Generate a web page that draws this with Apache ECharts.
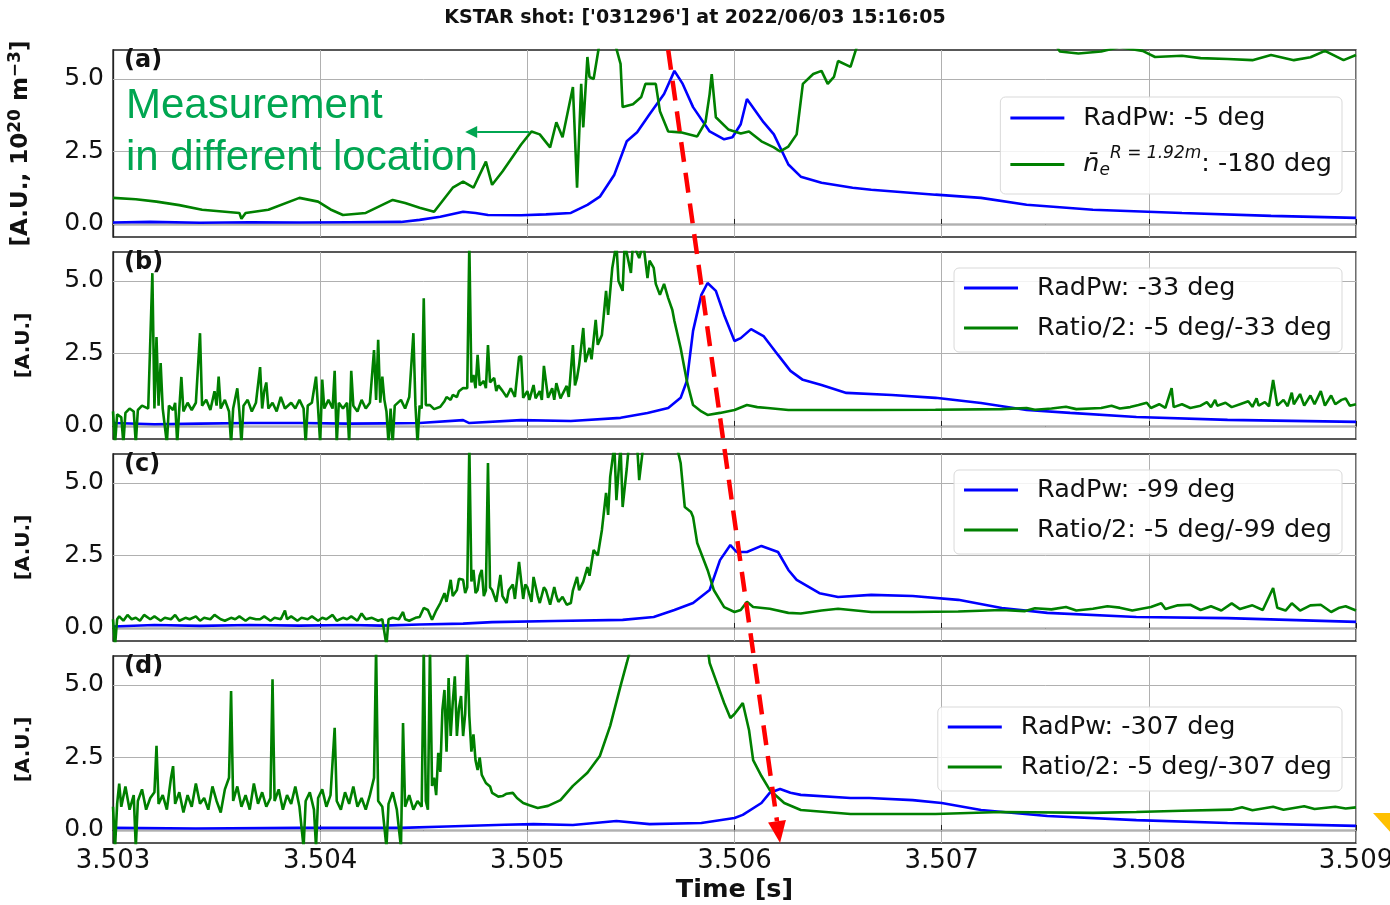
<!DOCTYPE html>
<html><head><meta charset="utf-8">
<script src="https://cdn.jsdelivr.net/npm/echarts@6/dist/echarts.min.js"></script>
<style>html,body{margin:0;padding:0;background:#fff}#c{width:1390px;height:905px}</style>
</head><body><div id="c"></div><script>
// ---------------- data (time [s], value [A.U.]) ----------------
const titleText = "KSTAR shot: ['031296'] at 2022/06/03 15:16:05";
const panelLabels = ['(a)', '(b)', '(c)', '(d)'];
const xTicks = [3.503, 3.504, 3.505, 3.506, 3.507, 3.508, 3.509];
const yTicks = [0, 2.5, 5.0];
const seriesNames = ['RadPw: -5 deg', 'ne R=1.92m: -180 deg', 'RadPw: -33 deg', 'Ratio/2: -5 deg/-33 deg',
  'RadPw: -99 deg', 'Ratio/2: -5 deg/-99 deg', 'RadPw: -307 deg', 'Ratio/2: -5 deg/-307 deg'];

const radA = [[3.50300,0.05],[3.50318,0.07],[3.50342,0.04],[3.50366,0.06],[3.50390,0.05],[3.50414,0.06],[3.50439,0.07],[3.50448,0.14],[3.50458,0.25],[3.50469,0.42],[3.50475,0.38],[3.50481,0.31],[3.50497,0.30],[3.50509,0.33],[3.50521,0.38],[3.50529,0.66],[3.50535,0.94],[3.50542,1.70],[3.50548,2.85],[3.50553,3.16],[3.50559,3.78],[3.50566,4.48],[3.50571,5.28],[3.50575,4.83],[3.50580,4.03],[3.50588,3.19],[3.50595,2.92],[3.50599,2.99],[3.50603,3.44],[3.50606,4.31],[3.50614,3.51],[3.50619,3.09],[3.50626,2.05],[3.50632,1.63],[3.50642,1.42],[3.50657,1.25],[3.50666,1.18],[3.50697,1.01],[3.50719,0.90],[3.50741,0.66],[3.50773,0.49],[3.50816,0.38],[3.50859,0.28],[3.50900,0.21]];
const densA = [[3.50300,0.90],[3.50311,0.85],[3.50321,0.77],[3.50332,0.65],[3.50343,0.49],[3.50361,0.38],[3.50362,0.18],[3.50364,0.38],[3.50375,0.49],[3.50390,0.90],[3.50399,0.77],[3.50405,0.50],[3.50411,0.31],[3.50422,0.38],[3.50435,0.83],[3.50441,0.72],[3.50448,0.56],[3.50455,0.42],[3.50464,1.25],[3.50469,1.46],[3.50474,1.25],[3.50480,2.15],[3.50483,1.35],[3.50488,1.81],[3.50497,2.74],[3.50502,3.19],[3.50506,3.09],[3.50511,2.64],[3.50514,3.51],[3.50517,2.99],[3.50522,4.72],[3.50524,1.25],[3.50526,4.83],[3.50527,3.33],[3.50529,5.76],[3.50530,5.07],[3.50532,5.00],[3.50535,6.30],[3.50542,6.30],[3.50545,5.52],[3.50546,4.03],[3.50551,4.13],[3.50555,4.38],[3.50557,4.83],[3.50562,4.83],[3.50564,3.89],[3.50568,3.19],[3.50574,3.16],[3.50582,3.02],[3.50586,3.51],[3.50588,4.48],[3.50589,5.17],[3.50591,3.68],[3.50597,3.26],[3.50603,3.12],[3.50607,3.19],[3.50613,2.85],[3.50619,2.64],[3.50622,2.50],[3.50626,2.67],[3.50630,3.09],[3.50633,4.83],[3.50638,5.17],[3.50642,5.28],[3.50645,4.83],[3.50648,5.07],[3.50650,5.62],[3.50656,5.42],[3.50659,6.10],[3.50666,6.60],[3.50704,7.00],[3.50750,6.80],[3.50757,5.95],[3.50766,5.88],[3.50777,5.95],[3.50786,6.10],[3.50797,5.97],[3.50803,5.76],[3.50816,5.80],[3.50825,5.72],[3.50838,5.69],[3.50850,5.65],[3.50859,5.83],[3.50870,5.65],[3.50878,5.75],[3.50885,5.97],[3.50894,5.65],[3.50900,5.83]];

const radB = [[3.50300,0.10],[3.50320,0.06],[3.50342,0.08],[3.50366,0.10],[3.50390,0.10],[3.50414,0.08],[3.50430,0.09],[3.50448,0.10],[3.50469,0.20],[3.50472,0.10],[3.50497,0.20],[3.50521,0.17],[3.50545,0.28],[3.50558,0.45],[3.50568,0.62],[3.50574,0.97],[3.50577,1.55],[3.50580,3.28],[3.50584,4.52],[3.50587,4.93],[3.50591,4.66],[3.50595,3.83],[3.50600,2.93],[3.50603,3.03],[3.50608,3.34],[3.50614,3.10],[3.50621,2.45],[3.50627,1.90],[3.50633,1.59],[3.50642,1.41],[3.50654,1.14],[3.50676,1.07],[3.50697,0.97],[3.50719,0.79],[3.50741,0.55],[3.50762,0.45],[3.50794,0.31],[3.50838,0.21],[3.50900,0.14]];
const ratioB = [[3.50300,0.5],[3.50301,-0.6],[3.50302,0.4],[3.50304,0.3],[3.50305,-0.6],[3.50306,0.45],[3.50308,0.6],[3.50310,0.5],[3.50311,-0.6],[3.50312,0.55],[3.50314,0.7],[3.50317,0.6],[3.50319,5.27],[3.50320,0.6],[3.50321,3.07],[3.50322,0.7],[3.50323,2.17],[3.50324,0.6],[3.50326,-0.6],[3.50327,0.7],[3.50329,0.55],[3.50330,0.8],[3.50331,-0.6],[3.50332,0.6],[3.50333,1.69],[3.50334,0.5],[3.50336,0.8],[3.50338,0.55],[3.50340,0.8],[3.50342,3.2],[3.50343,0.7],[3.50345,0.9],[3.50347,0.55],[3.50349,1.2],[3.50350,0.7],[3.50351,1.7],[3.50352,0.6],[3.50354,0.9],[3.50356,0.5],[3.50357,-0.6],[3.50358,0.6],[3.50360,1.3],[3.50361,0.5],[3.50362,-0.6],[3.50363,0.7],[3.50365,0.9],[3.50367,0.5],[3.50369,0.8],[3.50371,2.03],[3.50372,0.6],[3.50373,1.2],[3.50374,1.5],[3.50375,0.6],[3.50377,0.8],[3.50379,0.5],[3.50381,1.0],[3.50383,0.6],[3.50386,0.8],[3.50388,0.6],[3.50390,0.9],[3.50392,0.6],[3.50393,-0.6],[3.50394,0.7],[3.50396,0.8],[3.50398,1.7],[3.50399,0.6],[3.50400,-0.6],[3.50401,1.6],[3.50402,0.6],[3.50404,0.9],[3.50406,0.6],[3.50407,1.9],[3.50408,-0.6],[3.50409,0.8],[3.50411,0.6],[3.50413,0.8],[3.50414,-0.6],[3.50415,1.9],[3.50416,0.7],[3.50418,0.5],[3.50420,0.9],[3.50422,0.6],[3.50424,0.8],[3.50426,2.62],[3.50427,0.9],[3.50428,2.97],[3.50429,0.8],[3.50430,1.7],[3.50431,0.9],[3.50432,0.5],[3.50433,-0.6],[3.50434,0.6],[3.50435,-0.6],[3.50436,0.7],[3.50439,0.9],[3.50441,0.6],[3.50443,1.0],[3.50445,3.2],[3.50446,0.7],[3.50447,-0.6],[3.50448,0.7],[3.50449,0.6],[3.50450,4.4],[3.50451,0.72],[3.50453,0.72],[3.50455,0.58],[3.50458,0.66],[3.50460,0.85],[3.50461,1.0],[3.50463,0.9],[3.50464,1.07],[3.50466,1.0],[3.50467,1.2],[3.50469,1.31],[3.50471,1.3],[3.50472,6.3],[3.50473,1.5],[3.50474,1.76],[3.50475,1.3],[3.50476,2.45],[3.50477,1.4],[3.50479,1.55],[3.50480,1.3],[3.50481,2.79],[3.50482,1.5],[3.50484,1.66],[3.50485,1.2],[3.50486,1.4],[3.50488,1.21],[3.50490,1.0],[3.50492,1.3],[3.50494,1.0],[3.50496,2.38],[3.50497,2.41],[3.50498,0.97],[3.50500,1.2],[3.50501,0.9],[3.50503,1.41],[3.50504,0.95],[3.50506,1.2],[3.50507,0.9],[3.50508,2.07],[3.50510,0.97],[3.50512,1.3],[3.50513,0.9],[3.50514,1.48],[3.50516,0.95],[3.50517,1.1],[3.50519,1.38],[3.50520,1.0],[3.50522,2.79],[3.50523,1.4],[3.50524,1.66],[3.50525,2.1],[3.50527,3.38],[3.50528,2.2],[3.50530,2.69],[3.50531,2.3],[3.50533,3.66],[3.50534,2.8],[3.50536,3.14],[3.50538,4.66],[3.50539,3.83],[3.50541,5.45],[3.50543,6.3],[3.50544,5.0],[3.50546,4.66],[3.50547,6.3],[3.50550,5.28],[3.50551,6.3],[3.50554,5.79],[3.50556,6.3],[3.50558,5.1],[3.50559,5.7],[3.50561,5.45],[3.50562,4.9],[3.50564,4.52],[3.50566,4.9],[3.50568,4.41],[3.50570,4.0],[3.50571,3.62],[3.50574,2.69],[3.50577,1.55],[3.50580,0.72],[3.50584,0.5],[3.50587,0.38],[3.50593,0.45],[3.50600,0.55],[3.50606,0.72],[3.50611,0.65],[3.50616,0.62],[3.50626,0.55],[3.50646,0.55],[3.50666,0.55],[3.50697,0.56],[3.50729,0.58],[3.50741,0.62],[3.50745,0.56],[3.50753,0.6],[3.50760,0.66],[3.50765,0.58],[3.50777,0.62],[3.50782,0.7],[3.50786,0.6],[3.50791,0.65],[3.50795,0.72],[3.50799,0.8],[3.50801,0.62],[3.50805,0.75],[3.50808,0.62],[3.50811,1.3],[3.50812,0.65],[3.50816,0.75],[3.50820,0.62],[3.50825,0.7],[3.50828,0.82],[3.50830,0.65],[3.50832,0.9],[3.50833,0.7],[3.50837,0.8],[3.50840,0.65],[3.50844,0.75],[3.50848,0.85],[3.50850,0.66],[3.50852,0.95],[3.50853,0.7],[3.50856,0.82],[3.50858,0.68],[3.50860,1.59],[3.50862,0.7],[3.50865,0.9],[3.50867,0.68],[3.50869,1.15],[3.50870,0.75],[3.50873,1.1],[3.50875,0.7],[3.50878,1.05],[3.50880,0.75],[3.50883,1.2],[3.50885,0.7],[3.50888,1.05],[3.50890,0.75],[3.50893,0.9],[3.50895,0.95],[3.50897,0.7],[3.50900,0.75]];

const radC = [[3.50300,0.05],[3.50320,0.10],[3.50342,0.07],[3.50366,0.10],[3.50390,0.08],[3.50414,0.10],[3.50430,0.08],[3.50448,0.12],[3.50469,0.15],[3.50483,0.20],[3.50513,0.24],[3.50546,0.28],[3.50561,0.38],[3.50571,0.62],[3.50580,0.86],[3.50588,1.31],[3.50593,2.34],[3.50598,2.86],[3.50601,2.62],[3.50606,2.62],[3.50613,2.83],[3.50621,2.62],[3.50626,2.00],[3.50630,1.66],[3.50641,1.20],[3.50650,1.07],[3.50666,1.14],[3.50686,1.10],[3.50708,0.97],[3.50729,0.69],[3.50751,0.52],[3.50794,0.38],[3.50838,0.34],[3.50900,0.21]];
const ratioC = [[3.50300,0.3],[3.50301,-0.6],[3.50302,0.3],[3.50303,0.4],[3.50305,0.25],[3.50307,0.45],[3.50309,0.3],[3.50311,0.35],[3.50313,0.25],[3.50315,0.45],[3.50318,0.3],[3.50320,0.4],[3.50323,0.25],[3.50325,0.35],[3.50328,0.3],[3.50330,0.45],[3.50332,0.25],[3.50335,0.35],[3.50337,0.3],[3.50340,0.4],[3.50342,0.25],[3.50344,0.35],[3.50347,0.3],[3.50349,0.45],[3.50352,0.3],[3.50354,0.25],[3.50357,0.35],[3.50359,0.3],[3.50361,0.4],[3.50364,0.25],[3.50366,0.35],[3.50369,0.3],[3.50371,0.3],[3.50373,0.4],[3.50376,0.25],[3.50378,0.35],[3.50381,0.3],[3.50383,0.6],[3.50384,0.3],[3.50386,0.4],[3.50389,0.25],[3.50391,0.35],[3.50394,0.3],[3.50396,0.4],[3.50399,0.25],[3.50401,0.35],[3.50403,0.3],[3.50406,0.45],[3.50408,0.25],[3.50411,0.35],[3.50413,0.3],[3.50415,0.4],[3.50418,0.25],[3.50420,0.5],[3.50422,0.3],[3.50425,0.35],[3.50428,0.25],[3.50430,0.3],[3.50432,-0.6],[3.50433,0.3],[3.50435,0.35],[3.50438,0.3],[3.50440,0.55],[3.50441,0.3],[3.50443,0.25],[3.50446,0.35],[3.50448,0.38],[3.50450,0.69],[3.50452,0.62],[3.50454,0.28],[3.50456,0.6],[3.50458,0.86],[3.50460,1.2],[3.50461,0.9],[3.50463,1.66],[3.50464,1.1],[3.50466,1.31],[3.50467,1.7],[3.50469,1.66],[3.50470,1.2],[3.50471,1.4],[3.50472,6.3],[3.50473,1.6],[3.50474,2.0],[3.50475,1.2],[3.50476,1.31],[3.50477,1.8],[3.50478,2.0],[3.50479,1.1],[3.50480,1.3],[3.50481,5.69],[3.50482,1.4],[3.50483,1.31],[3.50485,0.9],[3.50487,1.83],[3.50488,1.1],[3.50490,0.86],[3.50491,1.3],[3.50493,1.5],[3.50494,1.0],[3.50496,2.28],[3.50498,1.0],[3.50499,1.5],[3.50500,1.4],[3.50502,0.9],[3.50503,1.76],[3.50505,1.1],[3.50506,0.86],[3.50508,1.4],[3.50509,1.3],[3.50511,0.8],[3.50513,1.41],[3.50514,1.1],[3.50515,0.9],[3.50517,1.07],[3.50519,0.8],[3.50521,0.86],[3.50522,1.3],[3.50524,1.76],[3.50525,1.3],[3.50527,1.6],[3.50529,2.1],[3.50530,1.8],[3.50532,2.69],[3.50534,2.5],[3.50536,3.38],[3.50538,4.66],[3.50539,3.9],[3.50540,5.21],[3.50542,6.3],[3.50543,4.41],[3.50545,6.3],[3.50546,4.17],[3.50548,5.5],[3.50549,6.3],[3.50553,6.3],[3.50554,5.1],[3.50556,6.3],[3.50572,6.3],[3.50574,5.69],[3.50576,4.17],[3.50579,4.0],[3.50580,3.83],[3.50582,2.93],[3.50587,2.0],[3.50590,1.31],[3.50595,0.72],[3.50600,0.55],[3.50603,0.62],[3.50606,0.9],[3.50609,0.72],[3.50617,0.66],[3.50626,0.52],[3.50632,0.5],[3.50642,0.6],[3.50650,0.66],[3.50666,0.55],[3.50686,0.55],[3.50708,0.57],[3.50729,0.62],[3.50740,0.58],[3.50745,0.68],[3.50753,0.64],[3.50760,0.72],[3.50765,0.6],[3.50773,0.66],[3.50780,0.75],[3.50786,0.7],[3.50792,0.6],[3.50801,0.72],[3.50806,0.85],[3.50808,0.65],[3.50814,0.78],[3.50820,0.8],[3.50825,0.62],[3.50830,0.75],[3.50835,0.6],[3.50840,0.85],[3.50844,0.65],[3.50850,0.78],[3.50855,0.62],[3.50860,1.38],[3.50862,0.7],[3.50866,0.6],[3.50869,0.85],[3.50873,0.6],[3.50878,0.78],[3.50883,0.8],[3.50888,0.55],[3.50892,0.7],[3.50895,0.75],[3.50900,0.6]];

const radD = [[3.50300,0.07],[3.50340,0.05],[3.50390,0.07],[3.50439,0.07],[3.50461,0.12],[3.50489,0.18],[3.50503,0.20],[3.50522,0.17],[3.50543,0.31],[3.50559,0.20],[3.50584,0.24],[3.50600,0.41],[3.50604,0.52],[3.50613,0.93],[3.50617,1.28],[3.50622,1.41],[3.50627,1.28],[3.50632,1.21],[3.50656,1.10],[3.50665,1.10],[3.50686,1.03],[3.50700,0.93],[3.50719,0.69],[3.50751,0.48],[3.50794,0.34],[3.50838,0.24],[3.50900,0.14]];
const ratioD = [[3.50300,0.8],[3.50301,-0.6],[3.50302,0.9],[3.50303,1.6],[3.50304,0.8],[3.50306,1.5],[3.50308,0.7],[3.50310,1.2],[3.50311,-0.6],[3.50312,1.0],[3.50314,1.4],[3.50316,0.7],[3.50318,1.1],[3.50320,1.3],[3.50321,2.9],[3.50322,0.9],[3.50324,1.2],[3.50326,0.7],[3.50328,1.8],[3.50329,2.2],[3.50330,0.9],[3.50332,1.3],[3.50334,0.6],[3.50336,1.2],[3.50338,0.8],[3.50340,1.6],[3.50342,0.9],[3.50344,1.1],[3.50346,0.7],[3.50348,1.5],[3.50350,1.0],[3.50352,0.6],[3.50354,1.4],[3.50356,1.8],[3.50357,4.79],[3.50358,1.0],[3.50360,1.5],[3.50362,0.8],[3.50364,1.2],[3.50366,0.7],[3.50368,1.6],[3.50370,0.9],[3.50372,1.3],[3.50374,0.8],[3.50376,1.1],[3.50377,5.2],[3.50378,1.0],[3.50380,1.4],[3.50382,0.7],[3.50384,1.2],[3.50386,0.9],[3.50388,1.5],[3.50390,0.8],[3.50392,-0.6],[3.50393,1.0],[3.50395,1.3],[3.50397,0.7],[3.50398,-0.6],[3.50399,1.1],[3.50401,1.4],[3.50403,0.8],[3.50405,1.2],[3.50407,3.52],[3.50408,1.0],[3.50410,0.7],[3.50412,1.3],[3.50414,0.9],[3.50416,1.5],[3.50418,0.8],[3.50420,1.1],[3.50422,0.7],[3.50424,1.2],[3.50426,1.8],[3.50427,6.3],[3.50428,1.0],[3.50430,0.8],[3.50432,-0.6],[3.50433,0.9],[3.50435,1.3],[3.50437,0.7],[3.50439,-0.6],[3.50440,3.69],[3.50441,0.8],[3.50443,1.2],[3.50445,0.7],[3.50447,1.0],[3.50449,0.8],[3.50450,6.3],[3.50451,1.0],[3.50452,0.7],[3.50453,6.3],[3.50454,1.52],[3.50455,1.8],[3.50456,1.2],[3.50457,2.66],[3.50458,2.0],[3.50459,4.14],[3.50460,4.83],[3.50461,2.7],[3.50462,5.24],[3.50463,3.24],[3.50464,4.4],[3.50465,5.3],[3.50466,3.24],[3.50467,4.2],[3.50468,4.62],[3.50469,3.24],[3.50470,4.0],[3.50471,6.3],[3.50472,3.93],[3.50473,2.7],[3.50474,3.3],[3.50475,2.4],[3.50476,2.07],[3.50477,2.5],[3.50478,1.9],[3.50480,1.62],[3.50482,1.5],[3.50483,1.28],[3.50486,1.15],[3.50488,1.17],[3.50490,1.25],[3.50493,1.28],[3.50495,1.1],[3.50498,0.93],[3.50501,0.85],[3.50505,0.76],[3.50510,0.83],[3.50516,1.03],[3.50522,1.52],[3.50529,1.97],[3.50535,2.55],[3.50540,3.59],[3.50545,4.97],[3.50548,5.76],[3.50550,6.3],[3.50587,6.3],[3.50588,5.76],[3.50592,4.97],[3.50595,4.38],[3.50598,3.86],[3.50600,4.0],[3.50603,4.28],[3.50604,4.38],[3.50607,3.45],[3.50609,2.41],[3.50613,1.86],[3.50617,1.38],[3.50624,0.93],[3.50632,0.69],[3.50656,0.55],[3.50665,0.55],[3.50697,0.55],[3.50729,0.62],[3.50773,0.59],[3.50794,0.62],[3.50816,0.66],[3.50840,0.7],[3.50845,0.78],[3.50850,0.68],[3.50860,0.8],[3.50865,0.7],[3.50875,0.82],[3.50880,0.72],[3.50890,0.8],[3.50895,0.74],[3.50900,0.78]];

// annotation anchors (data coordinates)
const redArrowFrom = [3.50568, 6.0];   // panel (a) top
const redArrowTo = [3.50622, -0.45];   // panel (d) bottom
const noteArrowFrom = [3.50501, 3.17]; // panel (a)
const noteArrowTo = [3.50470, 3.17];

// ---------------- chart ----------------
const FONT = "'DejaVu Sans', sans-serif";
const gridTops = [50, 252, 454, 656];
const GRID_H = 187;
const radSeries = [radA, radB, radC, radD];
const greenSeries = [densA, ratioB, ratioC, ratioD];
const legendTops = [97, 268, 470, 707];

const chart = echarts.init(document.getElementById('c'), null, {renderer: 'canvas'});

const grids = gridTops.map(t => ({left: 113, top: t, width: 1243, height: GRID_H, show: true,
  outerBoundsMode: 'none', containLabel: false,
  borderColor: '#222', borderWidth: 1.3, backgroundColor: 'transparent'}));

const xAxes = gridTops.map((t, i) => ({
  type: 'value', gridIndex: i, min: 3.503, max: 3.509, interval: 0.001,
  axisLine: {show: true, lineStyle: {color: '#222', width: 1.3}},
  axisTick: {show: true, inside: true, length: 5, lineStyle: {color: '#222'}},
  splitLine: {show: true, lineStyle: {color: '#b0b0b0', width: 1}},
  axisLabel: {show: i === 3, customValues: xTicks, fontSize: 26, color: '#111', fontFamily: FONT, margin: 5,
    hideOverlap: false, formatter: v => v.toFixed(3)},
  name: i === 3 ? 'Time [s]' : '', nameLocation: 'middle', nameGap: 34,
  nameTextStyle: {fontSize: 25.5, fontWeight: 'bold', color: '#111', fontFamily: FONT}
}));

const yAxes = gridTops.map((t, i) => ({
  type: 'value', gridIndex: i, min: -0.45, max: 6.0,
  axisLine: {show: true, lineStyle: {color: '#222', width: 1.3}},
  axisTick: {show: true, inside: true, length: 5, customValues: yTicks, lineStyle: {color: '#222'}},
  splitLine: {show: false},
  axisLabel: {customValues: yTicks, fontSize: 25, color: '#111', fontFamily: FONT, margin: 9,
    formatter: v => v.toFixed(1)},
  name: i === 0 ? '{b|[A.U., }{n|10}{s|20}{b| m}{s|\u22123}{b|]}' : '[A.U.]',
  nameLocation: 'middle', nameRotate: 90, nameGap: i === 0 ? 77 : 79,
  nameTextStyle: {fontSize: 20, fontWeight: 'bold', color: '#111', fontFamily: FONT,
    rich: {
      b: {fontSize: 23, fontWeight: 'bold', fontFamily: FONT, color: '#111'},
      n: {fontSize: 23, fontFamily: FONT, color: '#111'},
      s: {fontSize: 17, fontFamily: FONT, color: '#111', padding: [0, 0, 12, 0]}
    }}
}));

const series = [];
for (let i = 0; i < 4; i++) {
  series.push({
    type: 'line', name: seriesNames[2 * i], xAxisIndex: i, yAxisIndex: i, data: radSeries[i],
    symbol: 'none', showSymbol: false, clip: true, animation: false, z: 3,
    lineStyle: {color: '#0000ff', width: 2.6}, itemStyle: {color: '#0000ff'},
    markLine: {silent: true, symbol: 'none', z: 1, animation: false, label: {show: false},
      lineStyle: {color: '#b0b0b0', width: 1, type: 'solid'},
      data: yTicks.map(v => ({yAxis: v}))}
  });
  series.push({
    type: 'line', name: seriesNames[2 * i + 1], xAxisIndex: i, yAxisIndex: i, data: greenSeries[i],
    symbol: 'none', showSymbol: false, clip: true, animation: false, z: 4,
    lineStyle: {color: '#008000', width: 2.6}, itemStyle: {color: '#008000'}
  });
}

const legends = legendTops.map((t, i) => ({
  data: [seriesNames[2 * i], seriesNames[2 * i + 1]], orient: 'vertical', right: 48, top: t,
  backgroundColor: 'rgba(255,255,255,0.85)', borderColor: '#d9d9d9', borderWidth: 1, borderRadius: 5,
  padding: i === 0 ? [6, 10, 10, 10] : [5, 10, 9, 10], itemGap: i === 0 ? 12 : 10,
  icon: 'rect', itemWidth: 54, itemHeight: 3.2, selectedMode: false,
  formatter: name => name === seriesNames[1]
    ? '{i|n\u0304}{sb|e}{sp|R = 1.92m}{t|: -180 deg}' : '{t|' + name + '}',
  textStyle: {fontSize: 25.5, color: '#111', fontFamily: FONT, lineHeight: 30, padding: [0, 0, 0, 14],
    rich: {
      t: {fontSize: 25.5, color: '#111', fontFamily: FONT, lineHeight: 30},
      i: {fontSize: 25.5, color: '#111', fontFamily: FONT, fontStyle: 'italic', lineHeight: 30},
      sb: {fontSize: 17, color: '#111', fontFamily: FONT, fontStyle: 'italic', lineHeight: 17, padding: [12, 0, 0, 0]},
      sp: {fontSize: 17, color: '#111', fontFamily: FONT, fontStyle: 'italic', lineHeight: 17, padding: [0, 0, 22, 0]}
    }}
}));

const titles = [{text: titleText, left: 'center', top: 9, padding: 0,
  textStyle: {fontSize: 19, fontWeight: 'bold', color: '#111', fontFamily: FONT}}];
panelLabels.forEach((l, i) => titles.push({text: l, left: 124, top: gridTops[i] - 1, padding: 0,
  textStyle: {fontSize: 24, fontWeight: 'bold', color: '#111', fontFamily: FONT}}));

chart.setOption({
  animation: false, backgroundColor: '#fff',
  title: titles, grid: grids, xAxis: xAxes, yAxis: yAxes, legend: legends, series: series
});

// ---------------- annotations ----------------
function head(tip, from, len, half) {
  const dx = tip[0] - from[0], dy = tip[1] - from[1], L = Math.hypot(dx, dy);
  const ux = dx / L, uy = dy / L, bx = tip[0] - ux * len, by = tip[1] - uy * len;
  return {base: [bx, by], pts: [[tip[0], tip[1]], [bx - uy * half, by + ux * half], [bx + uy * half, by - ux * half]]};
}
const p1 = chart.convertToPixel({xAxisIndex: 0, yAxisIndex: 0}, redArrowFrom);
const p2 = chart.convertToPixel({xAxisIndex: 3, yAxisIndex: 3}, redArrowTo);
const rh = head(p2, p1, 22, 9);
const g1 = chart.convertToPixel({xAxisIndex: 0, yAxisIndex: 0}, noteArrowFrom);
const g2 = chart.convertToPixel({xAxisIndex: 0, yAxisIndex: 0}, noteArrowTo);
const gh = head(g2, g1, 12, 6);
const NOTE = '#00a651';

chart.setOption({graphic: [
  {type: 'line', z: 100, silent: true, shape: {x1: p1[0], y1: p1[1], x2: rh.base[0], y2: rh.base[1]},
    style: {stroke: '#ff0000', lineWidth: 4.5, lineDash: [20, 11]}},
  {type: 'polygon', z: 100, silent: true, shape: {points: rh.pts}, style: {fill: '#ff0000'}},
  {type: 'line', z: 100, silent: true, shape: {x1: g1[0], y1: g1[1], x2: gh.base[0], y2: gh.base[1]},
    style: {stroke: NOTE, lineWidth: 2}},
  {type: 'polygon', z: 100, silent: true, shape: {points: gh.pts}, style: {fill: NOTE}},
  {type: 'text', z: 100, silent: true, left: 126, top: 80,
    style: {text: 'Measurement\nin different location', fill: NOTE, fontSize: 42,
      fontFamily: "'Liberation Sans', Arial, sans-serif", lineHeight: 52}},
  {type: 'polygon', z: 100, silent: true, shape: {points: [[1373, 813], [1392, 813], [1392, 834]]},
    style: {fill: '#ffc000'}}
]});
</script></body></html>
